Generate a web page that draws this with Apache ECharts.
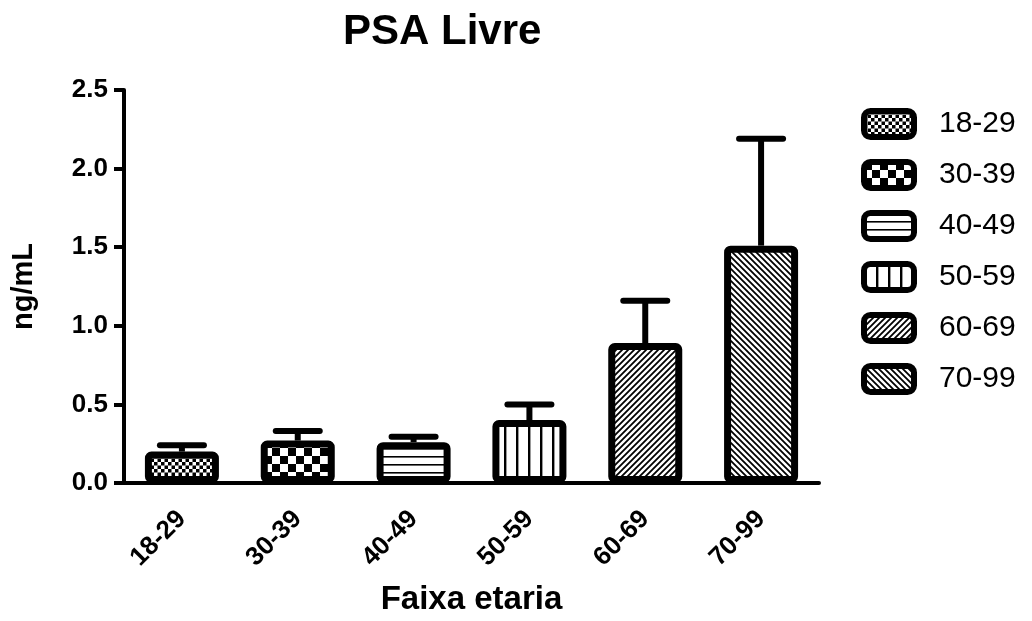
<!DOCTYPE html>
<html>
<head>
<meta charset="utf-8">
<script src="https://cdn.jsdelivr.net/npm/echarts@6/dist/echarts.min.js"></script>
<style>
html,body{margin:0;padding:0;background:#fff;}
#chart{width:1032px;height:621px;}
</style>
</head>
<body>
<div id="chart"></div>
<script>
// ---- data ----
const categories = ['18-29', '30-39', '40-49', '50-59', '60-69', '70-99'];
const means = [0.20, 0.27, 0.26, 0.40, 0.89, 1.51];
const upperErr = [0.24, 0.33, 0.295, 0.50, 1.16, 2.19];
const yTicks = [0, 0.5, 1.0, 1.5, 2.0, 2.5];

// ---- patterns ----
function makePattern(kind) {
  const c = document.createElement('canvas');
  let s = 8;
  if (kind === 'fineCheck') s = 7;
  if (kind === 'bigCheck') s = 16;
  if (kind === 'hlines') s = 8;
  if (kind === 'vlines') s = 12;
  if (kind === 'diagR' || kind === 'diagL') s = 6;
  c.width = s; c.height = s;
  const g = c.getContext('2d');
  g.fillStyle = '#fff';
  g.fillRect(0, 0, s, s);
  g.fillStyle = '#000';
  g.strokeStyle = '#000';
  if (kind === 'fineCheck' || kind === 'bigCheck') {
    const h = s / 2;
    g.fillRect(0, 0, h, h);
    g.fillRect(h, h, h, h);
  } else if (kind === 'hlines') {
    g.fillRect(0, 0, s, 1.6);
  } else if (kind === 'vlines') {
    g.fillRect(0, 0, 2.4, s);
  } else if (kind === 'diagR') {
    g.lineWidth = 1.8;
    g.beginPath();
    g.moveTo(-1, s + 1); g.lineTo(s + 1, -1);
    g.moveTo(-1, 1); g.lineTo(1, -1);
    g.moveTo(s - 1, s + 1); g.lineTo(s + 1, s - 1);
    g.stroke();
  } else if (kind === 'diagL') {
    g.lineWidth = 1.8;
    g.beginPath();
    g.moveTo(-1, -1); g.lineTo(s + 1, s + 1);
    g.moveTo(s - 1, -1); g.lineTo(s + 1, 1);
    g.moveTo(-1, s - 1); g.lineTo(1, s + 1);
    g.stroke();
  }
  return { image: c, repeat: 'repeat' };
}
const patternKinds = ['fineCheck', 'bigCheck', 'hlines', 'vlines', 'diagR', 'diagL'];

const FONT = '"Liberation Sans", Arial, sans-serif';

const barSeries = categories.map((cat, i) => ({
  name: cat,
  type: 'bar',
  barWidth: 74,
  barGap: '-100%',
  data: categories.map((_, j) => (j === i ? means[j] : '-')),
  itemStyle: {
    color: makePattern(patternKinds[i]),
    borderColor: '#000',
    borderWidth: 7,
    borderRadius: 3
  },
  emphasis: { disabled: true },
  z: 3
}));

const errSeries = {
  type: 'custom',
  name: 'err',
  data: categories.map((_, i) => [i, means[i], upperErr[i]]),
  renderItem: function (params, api) {
    const x = api.value(0);
    const p0 = api.coord([x, api.value(1)]);
    const p1 = api.coord([x, api.value(2)]);
    const half = 22;
    return {
      type: 'group',
      children: [
        { type: 'line', shape: { x1: p0[0], y1: p0[1], x2: p1[0], y2: p1[1] }, style: { stroke: '#000', lineWidth: 6 } },
        { type: 'line', shape: { x1: p1[0] - half, y1: p1[1], x2: p1[0] + half, y2: p1[1] }, style: { stroke: '#000', lineWidth: 6, lineCap: 'round' } }
      ]
    };
  },
  z: 2,
  silent: true
};

const chart = echarts.init(document.getElementById('chart'), null, { renderer: 'canvas' });
chart.setOption({
  animation: false,
  backgroundColor: '#fff',
  title: {
    text: 'PSA Livre',
    left: 338,
    top: 6,
    textStyle: { fontFamily: FONT, fontSize: 42, fontWeight: 'bold', color: '#000' }
  },
  legend: {
    orient: 'vertical',
    left: 856,
    top: 103,
    itemWidth: 50,
    itemHeight: 26,
    itemGap: 19,
    icon: 'roundRect',
    data: categories,
    itemStyle: { borderColor: '#000', borderWidth: 6 },
    textStyle: { fontFamily: FONT, fontSize: 30, lineHeight: 27, color: '#000', padding: [0, 0, 0, 20] }
  },
  grid: { left: 124, right: 213, top: 90, bottom: 133, containLabel: false },
  xAxis: {
    type: 'category',
    data: categories,
    name: 'Faixa etaria',
    nameLocation: 'middle',
    nameGap: 100,
    nameTextStyle: { fontFamily: FONT, fontSize: 33, fontWeight: 'bold', color: '#000' },
    axisLine: { lineStyle: { color: '#000', width: 4 } },
    axisTick: { alignWithLabel: true, length: 11, lineStyle: { color: '#000', width: 4 } },
    axisLabel: { rotate: 45, margin: 32, fontFamily: FONT, fontSize: 26, fontWeight: 'bold', color: '#000' }
  },
  yAxis: {
    type: 'value',
    min: 0,
    max: 2.5,
    interval: 0.5,
    name: 'ng/mL',
    nameLocation: 'middle',
    nameGap: 86,
    nameRotate: 90,
    nameTextStyle: { fontFamily: FONT, fontSize: 29, fontWeight: 'bold', color: '#000' },
    axisLine: { show: true, lineStyle: { color: '#000', width: 4 } },
    axisTick: { show: true, length: 10, lineStyle: { color: '#000', width: 4 } },
    splitLine: { show: false },
    axisLabel: {
      margin: 16,
      fontFamily: FONT, fontSize: 26, fontWeight: 'bold', color: '#000',
      formatter: v => (yTicks.indexOf(v) >= 0 ? v.toFixed(1) : '')
    }
  },
  series: barSeries.concat([errSeries])
});
</script>
</body>
</html>
